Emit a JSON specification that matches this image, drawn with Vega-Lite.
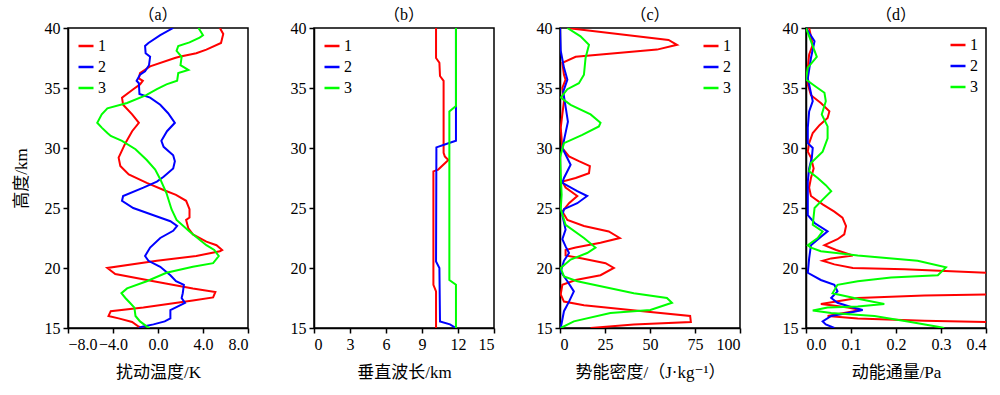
{
"$schema":"https://vega.github.io/schema/vega-lite/v6.json",
"padding":{"left":11,"top":6,"right":5,"bottom":5},
"spacing":66,
"bounds":"flush",
"config":{
 "font":"Liberation Serif, DejaVu Serif, Noto Sans CJK SC, serif",
 "view":{"stroke":"#000","strokeWidth":1.5},
 "axis":{"grid":false,"domainColor":"#000","domainWidth":1.5,"tickColor":"#000","tickWidth":1.5,"tickSize":5,"labelPadding":3,"labelColor":"#000","labelFontSize":16,"labelFont":"Liberation Serif, DejaVu Serif, serif","titleFontSize":17,"titleFontWeight":"normal","titleColor":"#000","titleFont":"Liberation Serif, DejaVu Serif, Noto Sans CJK SC, serif"},
 "axisX":{"titlePadding":12},
 "axisY":{"titlePadding":14},
 "legend":{"symbolType":"stroke","symbolStrokeWidth":2.5,"symbolSize":225,"labelFontSize":16,"labelFont":"Liberation Serif, DejaVu Serif, serif","rowPadding":4,"offset":9,"labelOffset":3,"labelColor":"#000"},
 "title":{"fontSize":16,"fontWeight":"normal","offset":-3,"color":"#000","font":"Liberation Serif, DejaVu Serif, Noto Sans CJK SC, serif"}
},
"resolve":{"scale":{"color":"independent"},"legend":{"color":"independent"}},
"datasets":{
"a":[
{"s":"1","h":40,"x":5.5},{"s":"1","h":39.5,"x":5.8},{"s":"1","h":38.75,"x":5.6},{"s":"1","h":38.2,"x":4.3},{"s":"1","h":37.9,"x":3.4},{"s":"1","h":37.6,"x":1.9},{"s":"1","h":37.5,"x":1.5},{"s":"1","h":36.8,"x":-0.7},{"s":"1","h":36.25,"x":-1.6},{"s":"1","h":35.8,"x":-1.7},{"s":"1","h":35.6,"x":-1.35},{"s":"1","h":35.3,"x":-1.6},{"s":"1","h":34.9,"x":-2.2},{"s":"1","h":34.2,"x":-3.2},{"s":"1","h":33.6,"x":-3.1},{"s":"1","h":32.8,"x":-2.3},{"s":"1","h":32.1,"x":-1.7},{"s":"1","h":31.4,"x":-2.3},{"s":"1","h":30.4,"x":-2.9},{"s":"1","h":29.2,"x":-3.5},{"s":"1","h":28.5,"x":-3.35},{"s":"1","h":27.8,"x":-2.6},{"s":"1","h":27.1,"x":-1.0},{"s":"1","h":26.5,"x":0.5},{"s":"1","h":26.1,"x":1.6},{"s":"1","h":25.6,"x":2.5},{"s":"1","h":24.9,"x":2.8},{"s":"1","h":24.2,"x":2.8},{"s":"1","h":24.0,"x":2.5},{"s":"1","h":23.3,"x":2.7},{"s":"1","h":22.8,"x":3.1},{"s":"1","h":22.2,"x":4.3},{"s":"1","h":21.9,"x":5.2},{"s":"1","h":21.5,"x":5.7},{"s":"1","h":21.4,"x":5.5},{"s":"1","h":21.0,"x":3.4},{"s":"1","h":20.6,"x":-0.1},{"s":"1","h":20.0,"x":-4.5},{"s":"1","h":19.5,"x":-3.8},{"s":"1","h":18.9,"x":-0.4},{"s":"1","h":18.3,"x":3.1},{"s":"1","h":18.0,"x":5.1},{"s":"1","h":17.55,"x":4.9},{"s":"1","h":17.3,"x":3.1},{"s":"1","h":16.7,"x":-1.3},{"s":"1","h":16.4,"x":-4.2},{"s":"1","h":16.0,"x":-4.4},{"s":"1","h":15.8,"x":-3.5},{"s":"1","h":15.5,"x":-2.3},{"s":"1","h":15.1,"x":-1.7},{"s":"1","h":15.0,"x":-1.3},
{"s":"2","h":40,"x":1.35},{"s":"2","h":39.4,"x":0.2},{"s":"2","h":38.75,"x":-0.85},{"s":"2","h":38.5,"x":-1.15},{"s":"2","h":37.9,"x":-1.1},{"s":"2","h":37.6,"x":-0.7},{"s":"2","h":36.9,"x":-0.8},{"s":"2","h":36.4,"x":-1.15},{"s":"2","h":36.1,"x":-1.6},{"s":"2","h":35.6,"x":-1.9},{"s":"2","h":35.4,"x":-1.7},{"s":"2","h":34.5,"x":-1.65},{"s":"2","h":34.2,"x":-0.7},{"s":"2","h":33.6,"x":0.2},{"s":"2","h":32.9,"x":0.9},{"s":"2","h":32.1,"x":1.5},{"s":"2","h":31.4,"x":0.8},{"s":"2","h":30.6,"x":0.3},{"s":"2","h":30.1,"x":0.5},{"s":"2","h":29.4,"x":1.35},{"s":"2","h":28.9,"x":1.5},{"s":"2","h":28.3,"x":1.35},{"s":"2","h":27.6,"x":0.5},{"s":"2","h":27.2,"x":-0.1},{"s":"2","h":26.7,"x":-1.3},{"s":"2","h":26.0,"x":-3.1},{"s":"2","h":25.6,"x":-3.2},{"s":"2","h":25.0,"x":-2.2},{"s":"2","h":24.4,"x":-0.4},{"s":"2","h":23.9,"x":1.1},{"s":"2","h":23.5,"x":1.7},{"s":"2","h":23.1,"x":1.35},{"s":"2","h":22.5,"x":0.2},{"s":"2","h":21.7,"x":-0.7},{"s":"2","h":21.0,"x":-1.15},{"s":"2","h":20.6,"x":-0.85},{"s":"2","h":20.1,"x":0.2},{"s":"2","h":19.4,"x":1.1},{"s":"2","h":18.9,"x":1.6},{"s":"2","h":18.6,"x":2.3},{"s":"2","h":17.9,"x":2.2},{"s":"2","h":17.5,"x":2.1},{"s":"2","h":17.1,"x":2.4},{"s":"2","h":16.5,"x":1.1},{"s":"2","h":15.8,"x":1.1},{"s":"2","h":15.55,"x":0.6},{"s":"2","h":15.3,"x":-0.4},{"s":"2","h":15.1,"x":-1.4},{"s":"2","h":15.0,"x":-1.7},
{"s":"3","h":40,"x":3.6},{"s":"3","h":39.4,"x":4.0},{"s":"3","h":39.2,"x":3.7},{"s":"3","h":38.8,"x":2.8},{"s":"3","h":38.5,"x":1.8},{"s":"3","h":38.1,"x":1.65},{"s":"3","h":37.6,"x":2.1},{"s":"3","h":36.9,"x":2.0},{"s":"3","h":36.5,"x":2.7},{"s":"3","h":36.25,"x":1.8},{"s":"3","h":35.6,"x":1.7},{"s":"3","h":35.3,"x":0.75},{"s":"3","h":34.9,"x":-0.1},{"s":"3","h":34.4,"x":-1.05},{"s":"3","h":33.75,"x":-2.75},{"s":"3","h":33.3,"x":-4.5},{"s":"3","h":32.8,"x":-5.0},{"s":"3","h":32.1,"x":-5.4},{"s":"3","h":31.7,"x":-5.0},{"s":"3","h":31.25,"x":-4.5},{"s":"3","h":31.0,"x":-4.2},{"s":"3","h":30.6,"x":-3.2},{"s":"3","h":29.9,"x":-2.0},{"s":"3","h":29.0,"x":-1.0},{"s":"3","h":28.2,"x":-0.25},{"s":"3","h":27.4,"x":0.2},{"s":"3","h":26.25,"x":0.75},{"s":"3","h":24.9,"x":1.2},{"s":"3","h":24.0,"x":1.65},{"s":"3","h":23.05,"x":2.8},{"s":"3","h":21.9,"x":4.3},{"s":"3","h":21.5,"x":5.0},{"s":"3","h":21.0,"x":5.4},{"s":"3","h":20.4,"x":4.9},{"s":"3","h":20.1,"x":3.1},{"s":"3","h":19.6,"x":0.75},{"s":"3","h":18.9,"x":-1.0},{"s":"3","h":18.3,"x":-2.75},{"s":"3","h":17.9,"x":-3.25},{"s":"3","h":17.5,"x":-2.9},{"s":"3","h":17.1,"x":-2.5},{"s":"3","h":16.7,"x":-2.1},{"s":"3","h":16.0,"x":-2.0},{"s":"3","h":15.55,"x":-1.6},{"s":"3","h":15.1,"x":-0.95},{"s":"3","h":15.0,"x":-0.75}
],
"b":[
{"s":"1","h":40,"x":10.17},{"s":"1","h":37.5,"x":10.17},{"s":"1","h":37.1,"x":10.45},{"s":"1","h":36.0,"x":10.5},{"s":"1","h":35.6,"x":10.8},{"s":"1","h":29.6,"x":10.8},{"s":"1","h":29.3,"x":10.9},{"s":"1","h":29.0,"x":11.2},{"s":"1","h":28.2,"x":10.35},{"s":"1","h":28.05,"x":9.95},{"s":"1","h":18.6,"x":9.95},{"s":"1","h":18.05,"x":10.17},{"s":"1","h":15,"x":10.17},
{"s":"2","h":40,"x":11.83},{"s":"2","h":33.5,"x":11.83},{"s":"2","h":30.6,"x":11.83},{"s":"2","h":30.4,"x":11.2},{"s":"2","h":30.05,"x":10.2},{"s":"2","h":20.55,"x":10.17},{"s":"2","h":20.0,"x":10.45},{"s":"2","h":15.55,"x":10.5},{"s":"2","h":15.3,"x":11.33},{"s":"2","h":15.0,"x":11.83},
{"s":"3","h":40,"x":11.83},{"s":"3","h":33.5,"x":11.83},{"s":"3","h":33.05,"x":11.28},{"s":"3","h":19.0,"x":11.28},{"s":"3","h":18.6,"x":11.83},{"s":"3","h":15,"x":11.83}
],
"c":[
{"s":"1","h":40,"x":4},{"s":"1","h":39.0,"x":60.3},{"s":"1","h":38.6,"x":65},{"s":"1","h":38.2,"x":53.9},{"s":"1","h":37.6,"x":8.7},{"s":"1","h":37.1,"x":1.3},{"s":"1","h":36.1,"x":2.2},{"s":"1","h":35.7,"x":3.1},{"s":"1","h":35.0,"x":1.3},{"s":"1","h":33.9,"x":2.2},{"s":"1","h":32.8,"x":1.3},{"s":"1","h":31.7,"x":0.4},{"s":"1","h":30.0,"x":1.3},{"s":"1","h":29.3,"x":5.0},{"s":"1","h":28.9,"x":10.5},{"s":"1","h":28.5,"x":16.6},{"s":"1","h":27.9,"x":16.1},{"s":"1","h":27.5,"x":8.7},{"s":"1","h":27.2,"x":1.3},{"s":"1","h":26.7,"x":3.1},{"s":"1","h":26.0,"x":9.6},{"s":"1","h":25.4,"x":5.0},{"s":"1","h":24.7,"x":1.3},{"s":"1","h":24.0,"x":4.1},{"s":"1","h":23.5,"x":13.3},{"s":"1","h":23.05,"x":27.1},{"s":"1","h":22.5,"x":33.2},{"s":"1","h":22.1,"x":22.5},{"s":"1","h":21.7,"x":8.7},{"s":"1","h":21.5,"x":3.1},{"s":"1","h":21.05,"x":3.1},{"s":"1","h":20.8,"x":12.4},{"s":"1","h":20.4,"x":25.3},{"s":"1","h":20.0,"x":29.9},{"s":"1","h":19.4,"x":22.5},{"s":"1","h":19.0,"x":8.7},{"s":"1","h":18.6,"x":1.3},{"s":"1","h":17.8,"x":0.4},{"s":"1","h":17.2,"x":2.2},{"s":"1","h":16.9,"x":13.3},{"s":"1","h":16.5,"x":39.1},{"s":"1","h":16.0,"x":72.3},{"s":"1","h":15.5,"x":72.7},{"s":"1","h":15.3,"x":41},{"s":"1","h":15.0,"x":17},
{"s":"2","h":40,"x":0},{"s":"2","h":38.1,"x":0.4},{"s":"2","h":36.7,"x":2.2},{"s":"2","h":35.7,"x":4.1},{"s":"2","h":34.7,"x":1.8},{"s":"2","h":32.2,"x":4.4},{"s":"2","h":30.0,"x":1.3},{"s":"2","h":28.6,"x":5.9},{"s":"2","h":27.5,"x":2.2},{"s":"2","h":27.1,"x":1.3},{"s":"2","h":26.4,"x":9.6},{"s":"2","h":26.0,"x":15.1},{"s":"2","h":25.4,"x":9.6},{"s":"2","h":24.9,"x":2.2},{"s":"2","h":24.4,"x":1.3},{"s":"2","h":23.2,"x":3.1},{"s":"2","h":22.4,"x":1.3},{"s":"2","h":21.8,"x":3.1},{"s":"2","h":21.25,"x":5.0},{"s":"2","h":20.6,"x":2.2},{"s":"2","h":19.7,"x":0.4},{"s":"2","h":18.9,"x":4.1},{"s":"2","h":18.05,"x":7.7},{"s":"2","h":17.2,"x":5},{"s":"2","h":16.4,"x":2.2},{"s":"2","h":15.0,"x":0.4},
{"s":"3","h":40,"x":4.1},{"s":"3","h":39.3,"x":11.4},{"s":"3","h":38.6,"x":16.1},{"s":"3","h":37.5,"x":14.2},{"s":"3","h":36.1,"x":13.3},{"s":"3","h":35.4,"x":10.5},{"s":"3","h":34.9,"x":4.1},{"s":"3","h":34.2,"x":0.4},{"s":"3","h":33.6,"x":5.9},{"s":"3","h":32.8,"x":17},{"s":"3","h":32.1,"x":22.5},{"s":"3","h":31.8,"x":21.6},{"s":"3","h":31.1,"x":12.4},{"s":"3","h":30.4,"x":2.2},{"s":"3","h":29.2,"x":0},{"s":"3","h":26.1,"x":0.9},{"s":"3","h":24.9,"x":0.4},{"s":"3","h":23.6,"x":3.1},{"s":"3","h":22.5,"x":13.3},{"s":"3","h":21.7,"x":19.7},{"s":"3","h":21.25,"x":15.1},{"s":"3","h":20.7,"x":5.9},{"s":"3","h":20.0,"x":0.4},{"s":"3","h":19.3,"x":2.2},{"s":"3","h":18.9,"x":9.6},{"s":"3","h":17.9,"x":41},{"s":"3","h":17.5,"x":59.4},{"s":"3","h":17.1,"x":62.2},{"s":"3","h":16.5,"x":50.2},{"s":"3","h":16.25,"x":28},{"s":"3","h":15.55,"x":7.7},{"s":"3","h":15.0,"x":0.4}
],
"d":[
{"s":"1","h":40,"x":0.007},{"s":"1","h":38.6,"x":0.015},{"s":"1","h":37.8,"x":0.007},{"s":"1","h":36.7,"x":0.004},{"s":"1","h":35.3,"x":0.004},{"s":"1","h":34.4,"x":0.011},{"s":"1","h":33.75,"x":0.033},{"s":"1","h":33.05,"x":0.052},{"s":"1","h":32.5,"x":0.048},{"s":"1","h":31.9,"x":0.030},{"s":"1","h":31.25,"x":0.015},{"s":"1","h":30.4,"x":0.007},{"s":"1","h":29.7,"x":0.004},{"s":"1","h":29.2,"x":0.011},{"s":"1","h":28.3,"x":0.017},{"s":"1","h":27.5,"x":0.011},{"s":"1","h":26.7,"x":0.007},{"s":"1","h":26.0,"x":0.011},{"s":"1","h":25.3,"x":0.037},{"s":"1","h":24.7,"x":0.063},{"s":"1","h":24.2,"x":0.081},{"s":"1","h":23.5,"x":0.089},{"s":"1","h":22.8,"x":0.085},{"s":"1","h":22.4,"x":0.070},{"s":"1","h":21.9,"x":0.041},{"s":"1","h":21.5,"x":0.067},{"s":"1","h":21.05,"x":0.104},{"s":"1","h":20.8,"x":0.056},{"s":"1","h":20.6,"x":0.037},{"s":"1","h":20.3,"x":0.063},{"s":"1","h":20.0,"x":0.104},{"s":"1","h":19.9,"x":0.219},{"s":"1","h":19.6,"x":0.4},{"s":"1","h":19.4,"x":0.5},{"s":"1","h":18.5,"x":0.6},{"s":"1","h":17.9,"x":0.5},{"s":"1","h":17.8,"x":0.4},{"s":"1","h":17.7,"x":0.263},{"s":"1","h":17.5,"x":0.115},{"s":"1","h":17.0,"x":0.033},{"s":"1","h":16.9,"x":0.056},{"s":"1","h":16.7,"x":0.093},{"s":"1","h":16.5,"x":0.122},{"s":"1","h":16.2,"x":0.078},{"s":"1","h":16.0,"x":0.048},{"s":"1","h":15.8,"x":0.115},{"s":"1","h":15.6,"x":0.263},{"s":"1","h":15.5,"x":0.4},{"s":"1","h":15.3,"x":0.5},{"s":"1","h":15.0,"x":0.55},
{"s":"2","h":40,"x":0},{"s":"2","h":38.9,"x":0.019},{"s":"2","h":37.5,"x":0.011},{"s":"2","h":35.8,"x":0.004},{"s":"2","h":33.9,"x":0.015},{"s":"2","h":33.05,"x":0.007},{"s":"2","h":31.7,"x":0.004},{"s":"2","h":30.4,"x":0.004},{"s":"2","h":30.0,"x":0.015},{"s":"2","h":29.2,"x":0.013},{"s":"2","h":28.3,"x":0.007},{"s":"2","h":27.2,"x":0.004},{"s":"2","h":24.4,"x":0.004},{"s":"2","h":23.75,"x":0.019},{"s":"2","h":23.05,"x":0.048},{"s":"2","h":22.5,"x":0.030},{"s":"2","h":21.9,"x":0.011},{"s":"2","h":20.8,"x":0.007},{"s":"2","h":19.6,"x":0.004},{"s":"2","h":19.0,"x":0.033},{"s":"2","h":18.6,"x":0.063},{"s":"2","h":18.05,"x":0.070},{"s":"2","h":17.5,"x":0.056},{"s":"2","h":17.1,"x":0.070},{"s":"2","h":16.75,"x":0.1},{"s":"2","h":16.5,"x":0.126},{"s":"2","h":16.25,"x":0.093},{"s":"2","h":16.0,"x":0.056},{"s":"2","h":15.55,"x":0.037},{"s":"2","h":15.3,"x":0.044},{"s":"2","h":15.0,"x":0.063},
{"s":"3","h":40,"x":0},{"s":"3","h":38.9,"x":0.011},{"s":"3","h":37.6,"x":0.024},{"s":"3","h":36.7,"x":0.004},{"s":"3","h":35.7,"x":0},{"s":"3","h":35.1,"x":0.022},{"s":"3","h":34.6,"x":0.041},{"s":"3","h":33.9,"x":0.044},{"s":"3","h":32.8,"x":0.035},{"s":"3","h":31.8,"x":0.048},{"s":"3","h":30.8,"x":0.048},{"s":"3","h":29.7,"x":0.037},{"s":"3","h":28.75,"x":0.011},{"s":"3","h":28.05,"x":0.007},{"s":"3","h":27.5,"x":0.026},{"s":"3","h":26.9,"x":0.044},{"s":"3","h":26.4,"x":0.056},{"s":"3","h":25.7,"x":0.037},{"s":"3","h":25.0,"x":0.019},{"s":"3","h":23.6,"x":0.015},{"s":"3","h":23.05,"x":0.037},{"s":"3","h":22.5,"x":0.026},{"s":"3","h":21.9,"x":0.004},{"s":"3","h":21.7,"x":0.011},{"s":"3","h":21.4,"x":0.033},{"s":"3","h":21.05,"x":0.115},{"s":"3","h":20.6,"x":0.248},{"s":"3","h":20.05,"x":0.311},{"s":"3","h":19.4,"x":0.293},{"s":"3","h":19.2,"x":0.189},{"s":"3","h":18.9,"x":0.115},{"s":"3","h":18.6,"x":0.070},{"s":"3","h":17.9,"x":0.059},{"s":"3","h":17.5,"x":0.107},{"s":"3","h":17.0,"x":0.174},{"s":"3","h":16.8,"x":0.115},{"s":"3","h":16.7,"x":0.048},{"s":"3","h":16.45,"x":0.015},{"s":"3","h":16.25,"x":0.056},{"s":"3","h":16.0,"x":0.152},{"s":"3","h":15.55,"x":0.226},{"s":"3","h":15.1,"x":0.293},{"s":"3","h":15.0,"x":0.307}
]
},
"hconcat":[
{"width":180,"height":300,"data":{"name":"a"},"title":"（a）",
 "mark":{"type":"line","strokeWidth":2,"clip":true},
 "encoding":{
  "x":{"field":"x","type":"quantitative","scale":{"domain":[-8,8],"nice":false},"axis":{"values":[-8,-4,0,4,8],"format":".1f","title":"扰动温度/K"}},
  "y":{"field":"h","type":"quantitative","scale":{"domain":[15,40],"nice":false},"axis":{"values":[15,20,25,30,35,40],"title":"高度/km"}},
  "color":{"field":"s","type":"nominal","scale":{"domain":["1","2","3"],"range":["#ff0000","#0000ff","#00ff00"]},"legend":{"orient":"top-left","title":null}},
  "order":{"field":"h","type":"quantitative"}}},
{"width":180,"height":300,"data":{"name":"b"},"title":"（b）",
 "mark":{"type":"line","strokeWidth":2,"clip":true},
 "encoding":{
  "x":{"field":"x","type":"quantitative","scale":{"domain":[0,15],"nice":false},"axis":{"values":[0,3,6,9,12,15],"title":"垂直波长/km"}},
  "y":{"field":"h","type":"quantitative","scale":{"domain":[15,40],"nice":false},"axis":{"values":[15,20,25,30,35,40],"title":null}},
  "color":{"field":"s","type":"nominal","scale":{"domain":["1","2","3"],"range":["#ff0000","#0000ff","#00ff00"]},"legend":{"orient":"top-left","title":null}},
  "order":{"field":"h","type":"quantitative"}}},
{"width":180,"height":300,"data":{"name":"c"},"title":"（c）",
 "mark":{"type":"line","strokeWidth":2,"clip":true},
 "encoding":{
  "x":{"field":"x","type":"quantitative","scale":{"domain":[0,100],"nice":false},"axis":{"values":[0,25,50,75,100],"title":"势能密度/（J·kg⁻¹）"}},
  "y":{"field":"h","type":"quantitative","scale":{"domain":[15,40],"nice":false},"axis":{"values":[15,20,25,30,35,40],"title":null}},
  "color":{"field":"s","type":"nominal","scale":{"domain":["1","2","3"],"range":["#ff0000","#0000ff","#00ff00"]},"legend":{"orient":"top-right","title":null,"offset":9}},
  "order":{"field":"h","type":"quantitative"}}},
{"width":180,"height":300,"data":{"name":"d"},"title":"（d）",
 "mark":{"type":"line","strokeWidth":2,"clip":true},
 "encoding":{
  "x":{"field":"x","type":"quantitative","scale":{"domain":[0,0.4],"nice":false},"axis":{"values":[0,0.1,0.2,0.3,0.4],"format":".1f","title":"动能通量/Pa"}},
  "y":{"field":"h","type":"quantitative","scale":{"domain":[15,40],"nice":false},"axis":{"values":[15,20,25,30,35,40],"title":null}},
  "color":{"field":"s","type":"nominal","scale":{"domain":["1","2","3"],"range":["#ff0000","#0000ff","#00ff00"]},"legend":{"orient":"top-right","title":null,"offset":8}},
  "order":{"field":"h","type":"quantitative"}}}
]
}
